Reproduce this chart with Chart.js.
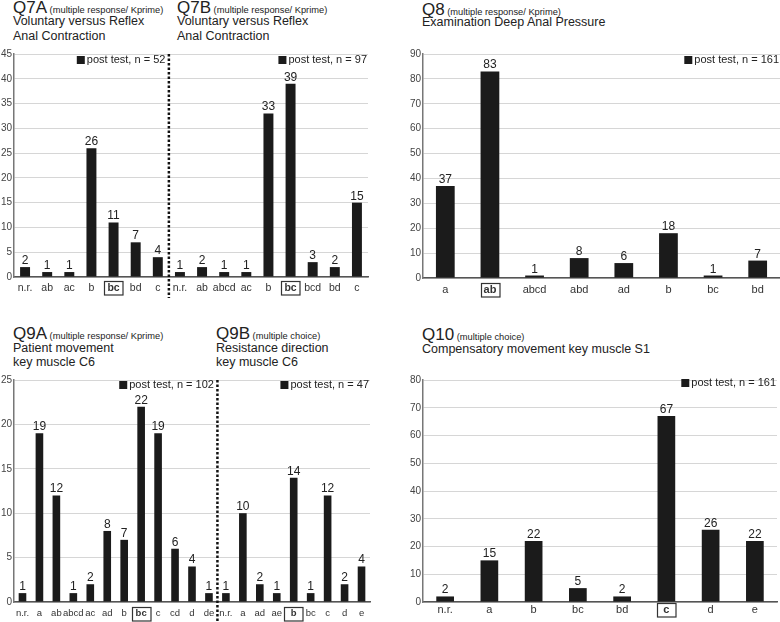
<!DOCTYPE html>
<html><head><meta charset="utf-8">
<script src="https://cdn.jsdelivr.net/npm/chart.js@4"></script>
<style>
body{margin:0;background:#fff;width:780px;height:622px;position:relative;overflow:hidden;font-family:"Liberation Sans",Arial,Helvetica,sans-serif;color:#222}
canvas{position:absolute}
.t{position:absolute;white-space:nowrap;line-height:1}
.big{font-size:17px}
.s{font-size:9.3px}
.sub{font-size:12.5px}
</style></head>
<body>
<div class="t big" style="left:13px;top:-0.9px">Q7A<span class="s"> (multiple response/ Kprime)</span></div>
<div class="t sub" style="left:13px;top:15.4px">Voluntary versus Reflex</div>
<div class="t sub" style="left:13px;top:30.4px">Anal Contraction</div>
<div class="t big" style="left:177px;top:-0.9px">Q7B<span class="s"> (multiple response/ Kprime)</span></div>
<div class="t sub" style="left:177px;top:15.4px">Voluntary versus Reflex</div>
<div class="t sub" style="left:177px;top:30.4px">Anal Contraction</div>

<div class="t big" style="left:422px;top:0.6px">Q8<span class="s"> (multiple response/ Kprime)</span></div>
<div class="t sub" style="left:422px;top:15.6px">Examination Deep Anal Pressure</div>

<div class="t big" style="left:13px;top:324.6px">Q9A<span class="s"> (multiple response/ Kprime)</span></div>
<div class="t sub" style="left:13px;top:341.7px">Patient movement</div>
<div class="t sub" style="left:13px;top:356.4px">key muscle C6</div>
<div class="t big" style="left:216px;top:324.6px">Q9B<span class="s"> (multiple choice)</span></div>
<div class="t sub" style="left:216px;top:341.7px">Resistance direction</div>
<div class="t sub" style="left:216px;top:356.4px">key muscle C6</div>

<div class="t big" style="left:422px;top:326px">Q10<span class="s"> (multiple choice)</span></div>
<div class="t sub" style="left:422px;top:343.4px">Compensatory movement key muscle S1</div>

<canvas id="c1" width="390" height="310" style="left:0;top:0"></canvas>
<canvas id="c2" width="390" height="310" style="left:390px;top:0"></canvas>
<canvas id="c3" width="390" height="312" style="left:0;top:310px"></canvas>
<canvas id="c4" width="390" height="312" style="left:390px;top:310px"></canvas>
<script>
const FONT = '"Liberation Sans", Arial, Helvetica, sans-serif';

const q7aLabels = ['n.r.','ab','ac','b','bc','bd','c'];
const q7aValues = [2,1,1,26,11,7,4];
const q7bLabels = ['n.r.','ab','abcd','ac','b','bc','bcd','bd','c'];
const q7bValues = [1,2,1,1,33,39,3,2,15];
const q8Labels = ['a','ab','abcd','abd','ad','b','bc','bd'];
const q8Values = [37,83,1,8,6,18,1,7];
const q9aLabels = ['n.r.','a','ab','abcd','ac','ad','b','bc','c','cd','d','de'];
const q9aValues = [1,19,12,1,2,8,7,22,19,6,4,1];
const q9bLabels = ['n.r.','a','ad','ae','b','bc','c','d','e'];
const q9bValues = [1,10,2,1,14,1,12,2,4];
const q10Labels = ['n.r.','a','b','bc','bd','c','d','e'];
const q10Values = [2,15,22,5,2,67,26,22];

const correct = {q7a:'bc', q7b:'bc', q8:'ab', q9a:'bc', q9b:'b', q10:'c'};
const sampleN = {q7a:52, q7b:97, q8:161, q9a:102, q9b:47, q10:161};
const legendText = n => 'post test, n = ' + n;

function panel(id, o){
  const labels = o.groups.flatMap(g=>g.labels);
  const values = o.groups.flatMap(g=>g.values);
  const bold = []; const bounds = []; let off = 0;
  o.groups.forEach(g=>{ bold.push(off + g.labels.indexOf(g.correct)); off += g.labels.length; bounds.push(off); });
  const deco = {
    id:'deco',
    afterDraw(chart){
      const ctx = chart.ctx, xs = chart.scales.x, ca = chart.chartArea;
      ctx.save();
      // value labels
      ctx.fillStyle = '#222'; ctx.font = '12px ' + FONT;
      ctx.textAlign = 'center'; ctx.textBaseline = 'alphabetic';
      chart.getDatasetMeta(0).data.forEach((bar,i)=>{ ctx.fillText(String(values[i]), bar.x, bar.y - 3); });
      // boxes around correct answers
      ctx.strokeStyle = '#333'; ctx.lineWidth = 1.2;
      bold.forEach(i=>{
        const x = xs.getPixelForTick(i); const cy = xs.top + o.boxOff;
        ctx.strokeRect(Math.round(x - 9.25)+0.5, Math.round(cy - 6.75)+0.5, 18.5, 13.5);
      });
      // dividers & legends
      const divX = [];
      for (let b = 0; b < bounds.length - 1; b++){
        const k = bounds[b];
        const x = (xs.getPixelForValue(k-1) + xs.getPixelForValue(k)) / 2;
        divX.push(x);
        ctx.beginPath(); ctx.setLineDash([2.5,2]); ctx.lineWidth = 2.5; ctx.strokeStyle = '#111';
        ctx.moveTo(x, ca.top); ctx.lineTo(x, o.divBottom); ctx.stroke(); ctx.setLineDash([]);
      }
      ctx.font = '11px ' + FONT; ctx.textAlign = 'right'; ctx.textBaseline = 'middle';
      o.groups.forEach((g,gi)=>{
        const right = gi < divX.length ? divX[gi] - 3.5 : ca.right - 1;
        const txt = legendText(g.n);
        const w = ctx.measureText(txt).width;
        const cy = ca.top + o.legY;
        ctx.fillStyle = '#222'; ctx.fillText(txt, right, cy);
        ctx.fillStyle = '#1b1b1b'; ctx.fillRect(right - w - 2 - 8, cy - 4, 8, 8);
      });
      ctx.restore();
    }
  };
  new Chart(document.getElementById(id), {
    type:'bar',
    data:{labels, datasets:[{data:values, backgroundColor:'#1b1b1b', barPercentage:o.bar, categoryPercentage:1}]},
    options:{
      responsive:false, animation:false, devicePixelRatio:1,
      layout:{padding:o.pad},
      plugins:{legend:{display:false}, tooltip:{enabled:false}},
      scales:{
        x:{ grid:{display:false, drawTicks:false}, border:{color:'#555', width:1.5},
            ticks:{autoSkip:false, maxRotation:0, minRotation:0, padding:o.xpad, color:'#333',
              font:(c)=>({family:FONT, size:o.xfs, weight: bold.includes(c.index) ? 'bold' : 'normal'})},
            afterFit:(s)=>{ s.height = o.xh; } },
        y:{ min:0, max:o.max, ticks:{stepSize:o.step, padding:2, color:'#444', font:{family:FONT, size:10}},
            grid:{color:'#d6d6d6', drawTicks:false}, border:{color:'#777', width:1.5},
            afterFit:(s)=>{ s.width = o.yw; } }
      }
    },
    plugins:[deco]
  });
}

panel('c1', {
  groups:[{labels:q7aLabels, values:q7aValues, correct:correct.q7a, n:sampleN.q7a},
          {labels:q7bLabels, values:q7bValues, correct:correct.q7b, n:sampleN.q7b}],
  pad:{left:0, top:54, right:22, bottom:9}, yw:14, xh:24, xfs:10.5, xpad:4.7, boxOff:11,
  max:45, step:5, bar:0.45, legY:6, divBottom:298
});
panel('c2', {
  groups:[{labels:q8Labels, values:q8Values, correct:correct.q8, n:sampleN.q8}],
  pad:{left:0, top:54, right:0, bottom:8}, yw:33, xh:24, xfs:11, xpad:4.9, boxOff:11.5,
  max:90, step:10, bar:0.42, legY:6, divBottom:0
});
panel('c3', {
  groups:[{labels:q9aLabels, values:q9aValues, correct:correct.q9a, n:sampleN.q9a},
          {labels:q9bLabels, values:q9bValues, correct:correct.q9b, n:sampleN.q9b}],
  pad:{left:0, top:70, right:20, bottom:0}, yw:14, xh:20, xfs:9.5, xpad:5.8, boxOff:11.5,
  max:25, step:5, bar:0.45, legY:5, divBottom:312
});
panel('c4', {
  groups:[{labels:q10Labels, values:q10Values, correct:correct.q10, n:sampleN.q10}],
  pad:{left:0, top:70, right:3, bottom:0}, yw:33, xh:20, xfs:11, xpad:1.4, boxOff:8,
  max:80, step:10, bar:0.40, legY:3, divBottom:0
});
</script>
</body></html>
